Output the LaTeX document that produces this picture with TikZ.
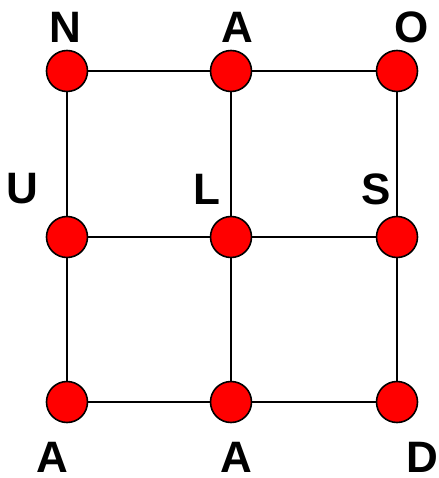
\documentclass[tikz,border=0pt]{standalone}
\usepackage{fontspec}
\setmainfont{Liberation Sans}
\begin{document}
\begin{tikzpicture}[x=1pt,y=-1pt,
  vert/.style={circle,draw=black,line width=1.6pt,fill=red,minimum size=41pt,inner sep=0pt},
  edge/.style={line width=1.6pt,black},
  lab/.style={font=\fontsize{44}{44}\selectfont\bfseries,inner sep=0pt,anchor=center}]
\useasboundingbox (0,0) rectangle (438,478);
\node[vert] (n1) at (67,71) {};
\node[vert] (n2) at (231,71) {};
\node[vert] (n3) at (397,71) {};
\node[vert] (n4) at (67,237) {};
\node[vert] (n5) at (231,237) {};
\node[vert] (n6) at (397,237) {};
\node[vert] (n7) at (67,402) {};
\node[vert] (n8) at (231,402) {};
\node[vert] (n9) at (397,402) {};
\begin{scope}[on background layer/.try]
\end{scope}
\draw[edge] (n1) -- (n2);
\draw[edge] (n2) -- (n3);
\draw[edge] (n4) -- (n5);
\draw[edge] (n5) -- (n6);
\draw[edge] (n7) -- (n8);
\draw[edge] (n8) -- (n9);
\draw[edge] (n1) -- (n4);
\draw[edge] (n4) -- (n7);
\draw[edge] (n2) -- (n5);
\draw[edge] (n5) -- (n8);
\draw[edge] (n3) -- (n6);
\draw[edge] (n6) -- (n9);
\node[lab] (l1) at (65,27) {N};
\node[lab] (l2) at (237.5,27) {A};
\node[lab] (l3) at (412,27.5) {O};
\node[lab] (l4) at (22.5,189) {U};
\node[lab] (l5) at (206.5,189) {L};
\node[lab] (l6) at (376,189) {S};
\node[lab] (l7) at (52.5,457.5) {A};
\node[lab] (l8) at (236.5,457.5) {A};
\node[lab] (l9) at (422.5,457.5) {D};
\end{tikzpicture}
\end{document}
